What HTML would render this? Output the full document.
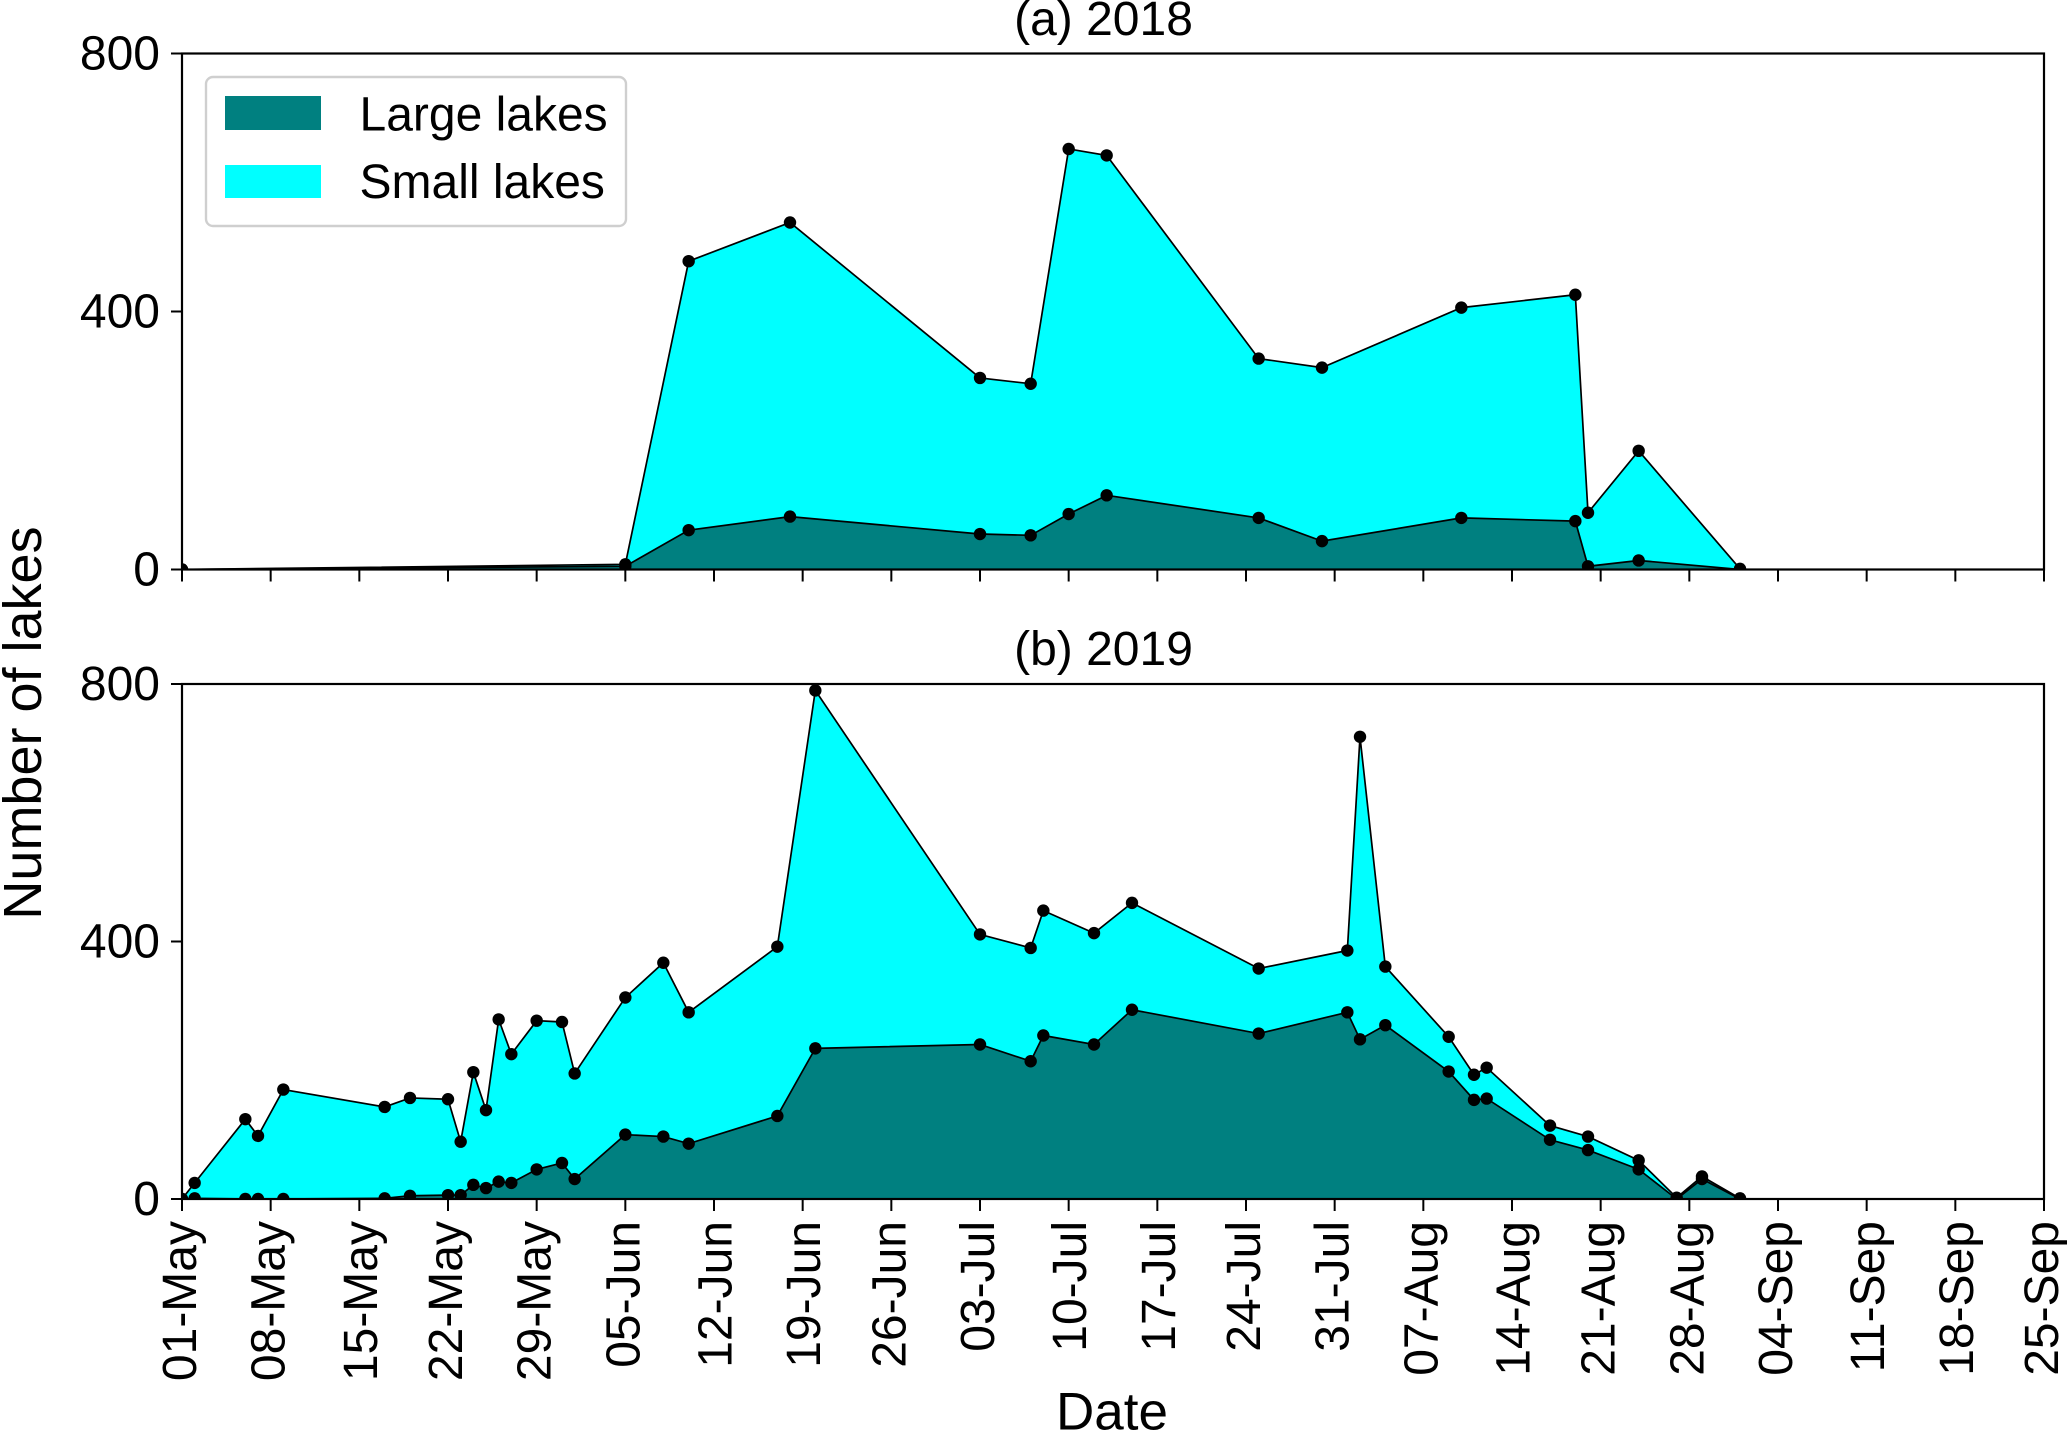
<!DOCTYPE html>
<html lang="en">
<head>
<meta charset="utf-8">
<title>Number of lakes 2018 and 2019</title>
<style>
  html, body { margin: 0; padding: 0; background: #fff; }
  svg { display: block; }
  text { font-family: "Liberation Sans", Arial, sans-serif; fill: #000; }
</style>
</head>
<body>
<svg id="chart" xmlns="http://www.w3.org/2000/svg" width="2067" height="1432" viewBox="0 0 2067 1432">
  <text x="1103.5" y="35" font-size="48" text-anchor="middle">(a) 2018</text>
  <text x="1103.5" y="665" font-size="48" text-anchor="middle">(b) 2019</text>
  <text transform="translate(41 723) rotate(-90)" font-size="54" text-anchor="middle">Number of lakes</text>
  <text x="1112" y="1429.5" font-size="53" text-anchor="middle">Date</text>
</svg>
<script>
// ---- chart data ----
const xTickLabels = ["01-May","08-May","15-May","22-May","29-May","05-Jun","12-Jun","19-Jun","26-Jun","03-Jul","10-Jul","17-Jul","24-Jul","31-Jul","07-Aug","14-Aug","21-Aug","28-Aug","04-Sep","11-Sep","18-Sep","25-Sep"];
const yTickValues = [0, 400, 800];
const days2018 = [0,35,40,48,63,67,70,73,85,90,101,110,111,115,123];
const totalLakes2018 = [0,8,478,538,297,288,652,642,327,313,406,426,88,184,1];
const largeLakes2018 = [0,5,61,82,55,53,86,115,80,44,80,75,5,14,0];
const days2019 = [0,1,5,6,8,16,18,21,22,23,24,25,26,28,30,31,35,38,40,47,50,63,67,68,72,75,85,92,93,95,100,102,103,108,111,115,118,120,123];
const totalLakes2019 = [0,25,124,98,170,143,157,155,89,197,138,279,225,277,275,195,313,367,290,392,790,411,390,448,413,460,358,386,718,361,252,193,204,114,97,60,2,35,1];
const largeLakes2019 = [0,1,0,0,0,1,5,6,6,22,17,27,25,46,56,31,100,97,86,129,234,240,214,254,240,294,257,290,248,270,198,154,156,92,76,46,0,31,0];

// ---- layout ----
const NS = "http://www.w3.org/2000/svg";
const svg = document.getElementById("chart");
const LEFT = 182, RIGHT = 2044, DAY_MAX = 147, Y_MAX = 800, TICK_STEP_DAYS = 7;
const COLOR_SMALL = "#00ffff", COLOR_LARGE = "#008080";

function xScale(day) { return LEFT + (day / DAY_MAX) * (RIGHT - LEFT); }
function makeYScale(top, bottom) {
  return function (v) { return bottom - (v / Y_MAX) * (bottom - top); };
}
function el(tag, attrs, parent) {
  const node = document.createElementNS(NS, tag);
  for (const k in attrs) node.setAttribute(k, attrs[k]);
  (parent || svg).appendChild(node);
  return node;
}
function areaPoints(days, values, y, bottom) {
  let pts = xScale(days[0]) + "," + bottom;
  days.forEach(function (d, i) { pts += " " + xScale(d) + "," + y(values[i]); });
  pts += " " + xScale(days[days.length - 1]) + "," + bottom;
  return pts;
}
function linePoints(days, values, y) {
  return days.map(function (d, i) { return xScale(d) + "," + y(values[i]); }).join(" ");
}

function drawPanel(key, top, bottom, days, total, large, showXLabels) {
  const y = makeYScale(top, bottom);
  const defs = el("defs", {});
  const clip = el("clipPath", { id: "clip-" + key }, defs);
  el("rect", { x: LEFT, y: top, width: RIGHT - LEFT, height: bottom - top }, clip);

  const plot = el("g", { "clip-path": "url(#clip-" + key + ")" });
  
  

  const smallArea = el("polygon", { points: areaPoints(days, total, y, bottom), fill: COLOR_SMALL }, plot);
  
  

  const largeArea = el("polygon", { points: areaPoints(days, large, y, bottom), fill: COLOR_LARGE }, plot);
  
  

  const totalLine = el("polyline", { points: linePoints(days, total, y), fill: "none", stroke: "#000", "stroke-width": 1.7 }, plot);
  
  

  const largeLine = el("polyline", { points: linePoints(days, large, y), fill: "none", stroke: "#000", "stroke-width": 1.7 }, plot);
  
  

  days.forEach(function (d, i) {
    const p1 = el("circle", { cx: xScale(d), cy: y(total[i]), r: 6.2, fill: "#000" }, plot);
    
    
    const p2 = el("circle", { cx: xScale(d), cy: y(large[i]), r: 6.2, fill: "#000" }, plot);
    
    
  });

  // y ticks
  yTickValues.forEach(function (v) {
    const t = el("line", { x1: LEFT - 11, x2: LEFT, y1: y(v), y2: y(v), stroke: "#000", "stroke-width": 2 });
    
    
    const lab = el("text", { x: 160, y: y(v) + 16, "font-size": 48, "text-anchor": "end" });
    lab.textContent = String(v);
    
    
  });

  // x ticks
  xTickLabels.forEach(function (label, i) {
    const x = xScale(i * TICK_STEP_DAYS);
    const t = el("line", { x1: x, x2: x, y1: bottom, y2: bottom + 12, stroke: "#000", "stroke-width": 2 });
    
    
    if (showXLabels) {
      const shift = label.charAt(0) === "1" ? 17.5 : 14;
      const lab = el("text", { transform: "translate(" + (x + shift) + " 1221) rotate(-90)", "font-size": 48, "text-anchor": "end" });
      lab.textContent = label;
      
      
    }
  });

  // frame
  const frame = el("rect", { x: LEFT, y: top, width: RIGHT - LEFT, height: bottom - top, fill: "none", stroke: "#000", "stroke-width": 2.2 });
  
  
}

drawPanel("2018", 53.5, 569.5, days2018, totalLakes2018, largeLakes2018, false);
drawPanel("2019", 684, 1199, days2019, totalLakes2019, largeLakes2019, true);

// ---- legend ----
const legend = el("g", {});



const legendBox = el("rect", { x: 206, y: 77, width: 420, height: 149, rx: 7, ry: 7, fill: "#fff", stroke: "#cfcfcf", "stroke-width": 2.4 }, legend);



const swatchLarge = el("rect", { x: 225, y: 96, width: 96, height: 34, fill: COLOR_LARGE }, legend);



const swatchSmall = el("rect", { x: 225, y: 165, width: 96, height: 33, fill: COLOR_SMALL }, legend);



const textLarge = el("text", { x: 359.5, y: 130.5, "font-size": 48 }, legend);
textLarge.textContent = "Large lakes";



const textSmall = el("text", { x: 359.5, y: 198, "font-size": 48 }, legend);
textSmall.textContent = "Small lakes";


</script>
</body>
</html>
